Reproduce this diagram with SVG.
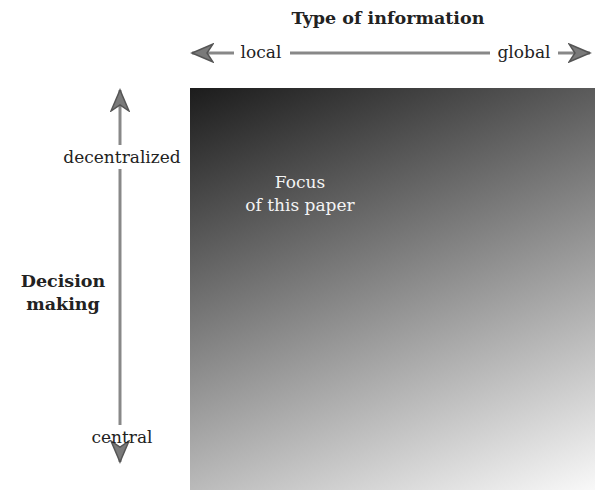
<svg xmlns="http://www.w3.org/2000/svg" width="595" height="490" viewBox="0 0 595 490">
<defs>
<linearGradient id="g" gradientUnits="userSpaceOnUse" x1="190" y1="88" x2="381" y2="573">
<stop offset="0" stop-color="#1c1c1c"/>
<stop offset="1" stop-color="#f8f8f8"/>
</linearGradient>
<marker id="ah" viewBox="0 0 24 20" refX="22" refY="10" markerWidth="24" markerHeight="20" markerUnits="userSpaceOnUse" orient="auto-start-reverse">
<path d="M22,10 L1,1 L7,10 L1,19 Z" fill="#7a7a7a" stroke="#555" stroke-width="1.5" stroke-linejoin="miter"/>
</marker>
<style>
.t{font-family:"DejaVu Serif","Liberation Serif",serif;font-size:17px;fill:#222}
.b{font-weight:bold;font-size:17.5px}
.w{fill:#f4f4f4}
.ln{stroke:#888;stroke-width:3;fill:none}
</style>
</defs>
<rect id="square" x="190" y="88" width="405" height="402" fill="url(#g)"/>
<g id="connectors">
<path class="ln" d="M234,53 H192" marker-end="url(#ah)"/>
<path class="ln" d="M290,53 H490"/>
<path class="ln" d="M558,53 H590" marker-end="url(#ah)"/>
<path class="ln" d="M120,145 V90" marker-end="url(#ah)"/>
<path class="ln" d="M120,169 V425"/>
<path class="ln" d="M120,449 V462" marker-end="url(#ah)"/>
</g>
<g id="title"><text class="t b" x="388" y="24" text-anchor="middle">Type of information</text></g>
<g id="local"><text class="t" x="261" y="58" text-anchor="middle">local</text></g>
<g id="global"><text class="t" x="524" y="58" text-anchor="middle">global</text></g>
<g id="decentralized"><text class="t" x="122" y="163" text-anchor="middle">decentralized</text></g>
<g id="central"><text class="t" x="122" y="443" text-anchor="middle">central</text></g>
<g id="decision"><text class="t b" x="63" y="287" text-anchor="middle">Decision</text><text class="t b" x="63" y="310" text-anchor="middle">making</text></g>
<g id="focus"><text class="t w" x="300" y="188" text-anchor="middle">Focus</text><text class="t w" x="300" y="211" text-anchor="middle">of this paper</text></g>
</svg>
